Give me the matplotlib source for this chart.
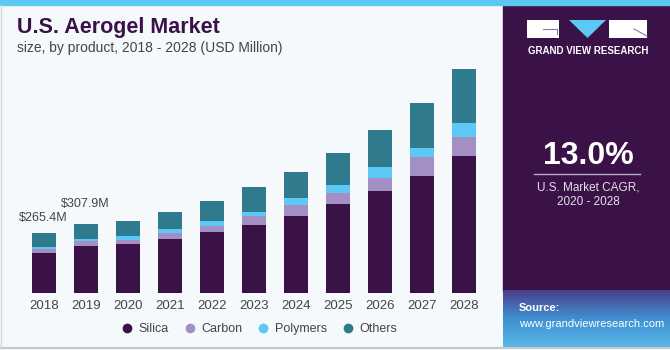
import numpy as np
import matplotlib.pyplot as plt
from matplotlib.patches import Rectangle, Polygon
from matplotlib.lines import Line2D
from matplotlib.colors import LinearSegmentedColormap

years = ['2018', '2019', '2020', '2021', '2022', '2023', '2024', '2025', '2026', '2027', '2028']
silica = [178, 209, 216.7, 239, 270, 302.6, 344, 396, 454, 522, 611]
carbon = [19.5, 20.8, 20.5, 28, 29.4, 40, 46.3, 50.3, 59.2, 82, 83.2]
polymers = [8, 11.8, 16.5, 19, 21, 19.1, 32.5, 34.3, 49, 42.7, 63.6]
others = [59.9, 66.3, 68, 73, 89, 108.6, 114.4, 143.7, 163.3, 197.6, 237.6]
series_names = ['Silica', 'Carbon', 'Polymers', 'Others']
colors = ['#3a1248', '#a48fc4', '#5bc8f5', '#2f7a8c']
callouts = {0: '$265.4M', 1: '$307.9M'}

W, H = 670, 350
fig = plt.figure(figsize=(W / 100, H / 100), dpi=100)
fig.patch.set_facecolor('#f5f9fc')
plt.rcParams['font.family'] = ['Liberation Sans', 'DejaVu Sans']

# background panels, drawn in pixel-like figure coords
bg = fig.add_axes([0, 0, 1, 1])
bg.set_xlim(0, W)
bg.set_ylim(H, 0)
bg.axis('off')
bg.add_patch(Rectangle((503, 5), 167, 287, color='#3a1248'))
# source box gradient
grad = np.linspace(0, 1, 60).reshape(-1, 1)
cm = LinearSegmentedColormap.from_list('g', ['#4a3f8c', '#3f8fd0', '#58b8e8'])
bg.imshow(grad, cmap=cm, extent=(503, 670, 347, 290), aspect='auto', zorder=1)
bg.add_patch(Rectangle((0, 0), W, 5, color='#5bc8f0', zorder=2))
bg.plot([0, W], [347.5, 347.5], color='#c8c8c8', lw=1.5, zorder=3)
bg.plot([0.5, 0.5], [5, 348], color='#d8d8d8', lw=1.0, zorder=3)

# logo
bg.add_patch(Rectangle((527, 20), 32, 18, color='white', lw=0, zorder=3))
bg.plot([543, 557, 557], [28.5, 28.5, 34], color='#8a7a99', lw=0.8, zorder=4)
bg.add_patch(Polygon([[569, 20], [606, 20], [587.5, 38]], color='#5bc8f5', lw=0, zorder=3))
bg.add_patch(Rectangle((609, 20), 38, 18, color='white', lw=0, zorder=3))
bg.plot([634, 647], [29, 36], color='#8a7a99', lw=0.8, zorder=4)
bg.text(588, 51, 'GRAND VIEW RESEARCH', color='white', fontsize=7, fontweight='bold',
        ha='center', va='center', zorder=4)

# CAGR block
bg.text(588, 156, '13.0%', color='white', fontsize=23, fontweight='bold',
        ha='center', va='center', zorder=4)
bg.plot([534, 640], [173.5, 173.5], color='#b8a8c8', lw=1, zorder=4)
bg.text(588, 187, 'U.S. Market CAGR,', color='#e6e0ec', fontsize=8.5,
        ha='center', va='center', zorder=4)
bg.text(588, 202, '2020 - 2028', color='#e6e0ec', fontsize=8.5,
        ha='center', va='center', zorder=4)
bg.text(519, 308, 'Source:', color='white', fontsize=8, fontweight='bold',
        ha='left', va='center', zorder=4)
bg.text(519, 324, 'www.grandviewresearch.com', color='white', fontsize=8,
        ha='left', va='center', zorder=4)

# titles
bg.text(17, 28, 'U.S. Aerogel Market', color='#3a1248', fontsize=15.5, fontweight='bold',
        ha='left', va='center')
bg.text(17, 48, 'size, by product, 2018 - 2028 (USD Million)', color='#444444', fontsize=10,
        ha='left', va='center')

# bar chart
ax = fig.add_axes([18.5 / W, 57 / H, 470.4 / W, 233.7 / H])
ax.set_facecolor('none')
x = np.arange(len(years))
bottom = np.zeros(len(years))
for vals, name, c in zip([silica, carbon, polymers, others], series_names, colors):
    ax.bar(x, vals, width=0.57, bottom=bottom, color=c, label=name, zorder=2)
    bottom += np.array(vals)
for i, txt in callouts.items():
    ax.text(x[i], bottom[i] + 70 + 20 * i, txt, ha='center', va='center',
            fontsize=9, color='#444444')
ax.set_xlim(-0.6, 10.6)
ax.set_ylim(0, 1040)
ax.set_xticks(x)
ax.set_xticklabels(years, fontsize=9.5, color='#444444')
ax.tick_params(axis='x', length=0, pad=5)
ax.set_yticks([])
for s in ax.spines.values():
    s.set_visible(False)

handles = [Line2D([], [], marker='o', ls='', color=c, markersize=6) for c in colors]
fig.legend(handles, series_names, loc='center', bbox_to_anchor=(259 / W, 1 - 329 / H),
           ncol=4, frameon=False, fontsize=9, labelcolor='#444444',
           handlelength=1.0, handletextpad=0.4, columnspacing=1.2)

fig.savefig('out.png', dpi=100, facecolor=fig.get_facecolor())
